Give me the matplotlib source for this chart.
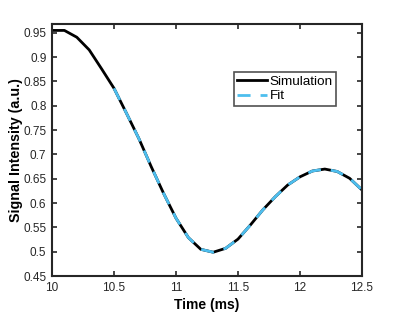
import matplotlib
matplotlib.use("Agg")
import matplotlib.pyplot as plt

plt.rcParams['font.family'] = ['Liberation Sans', 'DejaVu Sans']

sim_t = [10.0, 10.1, 10.2, 10.3, 10.4, 10.5, 10.6, 10.7, 10.8, 10.9, 11.0, 11.1, 11.2,
         11.3, 11.4, 11.5, 11.6, 11.7, 11.8, 11.9, 12.0, 12.1, 12.2, 12.3, 12.4, 12.5]
sim_v = [0.955, 0.955, 0.941, 0.915, 0.876, 0.836, 0.785, 0.733, 0.675, 0.620, 0.569, 0.529, 0.505,
         0.499, 0.507, 0.526, 0.555, 0.586, 0.613, 0.637, 0.654, 0.666, 0.670, 0.665, 0.651, 0.627]
fit_t = sim_t[5:]
fit_v = sim_v[5:]

xticks = [10, 10.5, 11, 11.5, 12, 12.5]
xtick_labels = ['10', '10.5', '11', '11.5', '12', '12.5']
yticks = [0.45, 0.5, 0.55, 0.6, 0.65, 0.7, 0.75, 0.8, 0.85, 0.9, 0.95]
ytick_labels = ['0.45', '0.5', '0.55', '0.6', '0.65', '0.7', '0.75', '0.8', '0.85', '0.9', '0.95']

fig = plt.figure(figsize=(4.0, 3.13), dpi=100)
ax = fig.add_axes([0.13, 0.118, 0.775, 0.805])

ax.plot(sim_t, sim_v, color='black', lw=2.0, label='Simulation')
ax.plot(fit_t, fit_v, color='#4DBEEE', lw=2.0, ls=(0, (4.7, 3.6)), label='Fit')

ax.set_xlim(10, 12.5)
ax.set_ylim(0.45, 0.968)
ax.set_xticks(xticks)
ax.set_xticklabels(xtick_labels)
ax.set_yticks(yticks)
ax.set_yticklabels(ytick_labels)
ax.tick_params(direction='in', top=True, right=True, length=3.5, width=1.2,
               labelsize=8.5, colors='#262626', pad=4)
for s in ax.spines.values():
    s.set_linewidth(1.5)
    s.set_color('#262626')

ax.set_xlabel('Time (ms)', fontsize=10, fontweight='bold', labelpad=3)
ax.set_ylabel('Signal Intensity (a.u.)', fontsize=10.3, fontweight='bold', labelpad=0.5)

leg = ax.legend(loc='upper left', bbox_to_anchor=(0.587, 0.81), fontsize=9.7,
                frameon=True, fancybox=False, edgecolor='#262626', handlelength=2.2,
                handletextpad=0.2, borderpad=0.25, labelspacing=0.15, borderaxespad=0)
leg.get_frame().set_linewidth(1.2)

fig.savefig('out.png', dpi=100)
